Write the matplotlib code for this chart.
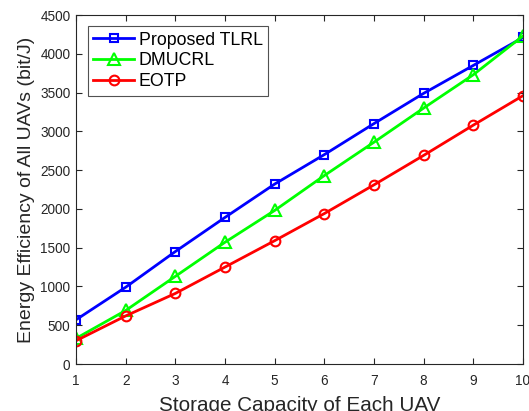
import matplotlib
matplotlib.use("Agg")
import matplotlib.pyplot as plt

plt.rcParams['font.family'] = ['Liberation Sans', 'DejaVu Sans']

capacity = [1, 2, 3, 4, 5, 6, 7, 8, 9, 10]
tlrl = [570, 990, 1450, 1890, 2320, 2700, 3100, 3490, 3850, 4210]
dmucrl = [330, 690, 1130, 1570, 1980, 2430, 2860, 3300, 3730, 4230]
eotp = [300, 620, 910, 1250, 1590, 1940, 2310, 2690, 3080, 3460]
yticks = [0, 500, 1000, 1500, 2000, 2500, 3000, 3500, 4000, 4500]

fig = plt.figure(figsize=(5.29, 4.11), dpi=100)
ax = fig.add_axes([76/529, 47/411, 447/529, 349/411])

ax.plot(capacity, tlrl, color='#0000ff', lw=2, marker='s', ms=6, mfc='none', mew=1.5, label='Proposed TLRL')
ax.plot(capacity, dmucrl, color='#00ff00', lw=2, marker='^', ms=8, mfc='none', mew=1.5, label='DMUCRL')
ax.plot(capacity, eotp, color='#ff0000', lw=2, marker='o', ms=7, mfc='none', mew=1.5, label='EOTP')

ax.set_xlim(1, 10)
ax.set_ylim(0, 4500)
ax.set_xticks(capacity)
ax.set_yticks(yticks)
ax.tick_params(direction='in', top=True, right=True, labelsize=9.8, colors='#262626', length=4)
ax.tick_params(axis='x', pad=7)
ax.tick_params(axis='y', pad=4)
for s in ax.spines.values():
    s.set_color('#262626')
    s.set_linewidth(0.8)

ax.set_xlabel('Storage Capacity of Each UAV', fontsize=14.9, color='#262626', labelpad=6)
ax.set_ylabel('Energy Efficiency of All UAVs (bit/J)', fontsize=14, color='#262626', labelpad=4)

leg = ax.legend(loc='upper left', bbox_to_anchor=(0.027, 0.968), borderaxespad=0, fontsize=12.8,
                frameon=True, fancybox=False, edgecolor='#262626', handlelength=2.3,
                borderpad=0.3, labelspacing=0.22, handletextpad=0.25)
leg.get_frame().set_linewidth(0.8)

fig.savefig('out.png', dpi=100)
